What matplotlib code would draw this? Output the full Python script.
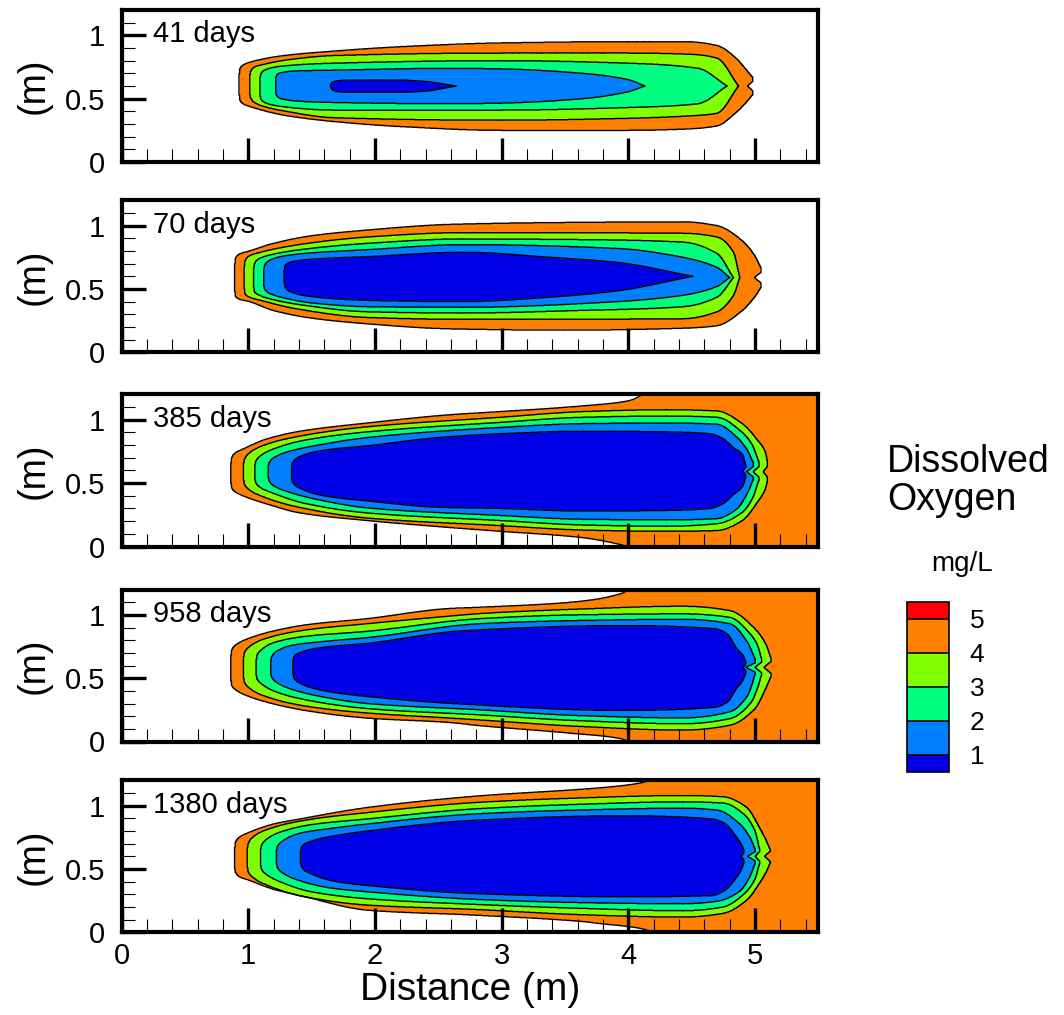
"""Dissolved oxygen plume snapshots (5 panels) with a stepped colour legend."""

import numpy as np
import matplotlib as M
M.use('Agg')
import matplotlib.pyplot as plt
from matplotlib.colors import ListedColormap, BoundaryNorm
from matplotlib.ticker import MultipleLocator

plt.rcParams['font.family'] = ['Liberation Sans', 'DejaVu Sans']

days = [41, 70, 385, 958, 1380]
do_ticks = [1, 2, 3, 4, 5]
do_colors = ['#0000E6', '#0080FF', '#00FF80', '#80FF00', '#FF8000', '#FF0000']

# Contour outlines, as stations (x, y_top, y_bottom) in m.
# c5 = outer edge of the orange band, c4 = 4 mg/L, ... c1 = 1 mg/L
d41_c5 = [(0.93, 0.70, 0.53), (0.935, 0.735, 0.49), (0.96, 0.765, 0.46), (1.04, 0.795, 0.43),
          (1.28, 0.84, 0.37), (1.67, 0.875, 0.32), (2.2, 0.91, 0.28), (3.0, 0.94, 0.25),
          (4.0, 0.95, 0.25), (4.45, 0.95, 0.26), (4.7, 0.92, 0.285), (4.85, 0.82, 0.39),
          (4.93, 0.73, 0.47), (4.98, 0.67, 0.53)]
d41_c4 = [(1.015, 0.69, 0.53), (1.02, 0.715, 0.505), (1.05, 0.75, 0.47), (1.12, 0.77, 0.44),
          (1.3, 0.805, 0.40), (1.67, 0.84, 0.35), (3.0, 0.86, 0.33), (4.0, 0.86, 0.345),
          (4.5, 0.85, 0.365), (4.7, 0.82, 0.385), (4.87, 0.60, 0.60)]
d41_c3 = [(1.095, 0.67, 0.52), (1.10, 0.695, 0.50), (1.13, 0.725, 0.47), (1.25, 0.755, 0.44),
          (1.67, 0.78, 0.41), (3.0, 0.80, 0.41), (4.0, 0.78, 0.43), (4.55, 0.74, 0.46),
          (4.78, 0.60, 0.60)]
d41_c2 = [(1.22, 0.67, 0.54), (1.225, 0.685, 0.525), (1.26, 0.705, 0.50), (1.4, 0.72, 0.48),
          (1.67, 0.725, 0.47), (2.6, 0.74, 0.46), (3.0, 0.735, 0.465), (3.64, 0.70, 0.50),
          (4.0, 0.65, 0.555), (4.13, 0.60, 0.60)]
d41_c1 = [(1.65, 0.605, 0.60), (1.66, 0.625, 0.575), (1.70, 0.64, 0.557), (1.78, 0.646, 0.551),
          (2.2, 0.646, 0.55), (2.4, 0.635, 0.56), (2.64, 0.60, 0.60)]

d70_c5 = [(0.895, 0.70, 0.48), (0.90, 0.74, 0.445), (0.93, 0.775, 0.42), (1.01, 0.80, 0.40),
          (1.2, 0.86, 0.33), (1.5, 0.92, 0.27), (1.94, 0.965, 0.225), (2.6, 1.01, 0.185),
          (3.5, 1.025, 0.175), (4.43, 1.03, 0.19), (4.7, 1.0, 0.21), (4.9, 0.88, 0.33),
          (5.0, 0.76, 0.44), (5.045, 0.67, 0.51)]
d70_c4 = [(0.97, 0.68, 0.50), (0.975, 0.72, 0.465), (1.0, 0.755, 0.44), (1.1, 0.79, 0.41),
          (1.4, 0.85, 0.34), (1.94, 0.91, 0.275), (2.7, 0.945, 0.26), (4.43, 0.94, 0.265),
          (4.7, 0.91, 0.32), (4.83, 0.79, 0.45), (4.88, 0.59, 0.59)]
d70_c3 = [(1.045, 0.67, 0.51), (1.05, 0.70, 0.48), (1.08, 0.735, 0.455), (1.18, 0.77, 0.42),
          (1.45, 0.815, 0.37), (1.94, 0.86, 0.32), (2.7, 0.895, 0.31), (3.6, 0.89, 0.33),
          (4.43, 0.87, 0.36), (4.70, 0.78, 0.435), (4.83, 0.59, 0.59)]
d70_c2 = [(1.125, 0.66, 0.52), (1.13, 0.685, 0.50), (1.16, 0.72, 0.47), (1.28, 0.76, 0.43),
          (1.5, 0.785, 0.39), (1.94, 0.81, 0.36), (2.7, 0.85, 0.355), (3.91, 0.82, 0.40),
          (4.43, 0.75, 0.45), (4.70, 0.67, 0.52), (4.80, 0.59, 0.59)]
d70_c1 = [(1.285, 0.65, 0.55), (1.29, 0.68, 0.52), (1.33, 0.71, 0.48), (1.5, 0.735, 0.44),
          (1.94, 0.755, 0.41), (2.7, 0.79, 0.40), (3.38, 0.75, 0.435), (3.91, 0.71, 0.485),
          (4.51, 0.60, 0.60)]

d385_c5 = [(0.865, 0.66, 0.50), (0.87, 0.70, 0.465), (0.90, 0.74, 0.43), (0.96, 0.77, 0.40),
           (1.15, 0.85, 0.335), (1.41, 0.91, 0.265), (1.94, 0.975, 0.205), (2.59, 1.04, 0.15),
           (2.99, 1.065, 0.12), (3.64, 1.11, 0.07), (4.0, 1.15, 0.0), (4.1, 1.19, -0.03),
           (4.2, 1.25, -0.05), (5.6, 1.25, -0.05)]
d385_c4 = [(0.965, 0.66, 0.52), (0.97, 0.685, 0.495), (1.0, 0.73, 0.455), (1.1, 0.79, 0.40),
           (1.4, 0.87, 0.31), (1.94, 0.945, 0.225), (2.99, 1.02, 0.165), (3.64, 1.065, 0.13),
           (4.3, 1.08, 0.12), (4.70, 1.07, 0.126), (4.90, 0.97, 0.205), (5.02, 0.84, 0.35),
           (5.08, 0.75, 0.45), (5.10, 0.66, 0.525)]
d385_c3 = [(1.055, 0.65, 0.525), (1.06, 0.67, 0.505), (1.09, 0.71, 0.47), (1.2, 0.77, 0.42),
           (1.45, 0.84, 0.34), (1.94, 0.905, 0.265), (2.99, 0.98, 0.205), (3.64, 1.02, 0.17),
           (4.3, 1.03, 0.16), (4.70, 1.02, 0.18), (4.90, 0.90, 0.27), (4.98, 0.80, 0.38),
           (5.03, 0.67, 0.52)]
d385_c2 = [(1.16, 0.64, 0.54), (1.165, 0.66, 0.52), (1.2, 0.70, 0.48), (1.32, 0.75, 0.43),
           (1.55, 0.80, 0.37), (1.94, 0.86, 0.305), (2.99, 0.94, 0.245), (3.64, 0.97, 0.215),
           (4.3, 0.975, 0.21), (4.70, 0.965, 0.22), (4.86, 0.86, 0.30), (4.94, 0.76, 0.42),
           (4.985, 0.665, 0.525)]
d385_c1 = [(1.345, 0.64, 0.53), (1.35, 0.66, 0.51), (1.43, 0.72, 0.45), (1.6, 0.76, 0.40),
           (1.94, 0.795, 0.36), (2.5, 0.86, 0.31), (2.99, 0.89, 0.30), (3.64, 0.91, 0.28),
           (4.3, 0.905, 0.285), (4.645, 0.89, 0.30), (4.75, 0.85, 0.34), (4.83, 0.78, 0.41),
           (4.905, 0.72, 0.48), (4.925, 0.65, 0.54)]

d958_c5 = [(0.865, 0.68, 0.48), (0.87, 0.72, 0.445), (0.90, 0.76, 0.41), (0.97, 0.80, 0.37),
           (1.15, 0.86, 0.31), (1.45, 0.92, 0.245), (1.94, 0.97, 0.185), (2.59, 1.05, 0.15),
           (2.83, 1.06, 0.125), (3.55, 1.10, 0.065), (3.95, 1.17, 0.02), (4.03, 1.22, -0.02),
           (4.1, 1.25, -0.05), (5.6, 1.25, -0.05)]
d958_c4 = [(0.965, 0.67, 0.50), (0.97, 0.70, 0.47), (1.0, 0.74, 0.43), (1.1, 0.80, 0.37),
           (1.45, 0.88, 0.28), (1.94, 0.93, 0.225), (2.59, 0.99, 0.185), (2.83, 1.01, 0.17),
           (3.6, 1.045, 0.12), (4.43, 1.068, 0.09), (4.80, 1.034, 0.128), (5.0, 0.89, 0.26),
           (5.09, 0.76, 0.43), (5.125, 0.66, 0.51)]
d958_c3 = [(1.065, 0.65, 0.52), (1.07, 0.68, 0.495), (1.1, 0.72, 0.46), (1.2, 0.78, 0.40),
           (1.45, 0.83, 0.33), (1.94, 0.87, 0.26), (2.83, 0.97, 0.21), (3.6, 1.0, 0.165),
           (4.43, 1.008, 0.14), (4.80, 0.98, 0.18), (4.97, 0.84, 0.31), (5.02, 0.76, 0.42),
           (5.05, 0.66, 0.52)]
d958_c2 = [(1.18, 0.64, 0.53), (1.185, 0.665, 0.51), (1.22, 0.71, 0.47), (1.35, 0.76, 0.41),
           (1.6, 0.79, 0.35), (1.94, 0.82, 0.30), (2.83, 0.93, 0.25), (3.6, 0.955, 0.205),
           (4.43, 0.965, 0.186), (4.80, 0.93, 0.234), (4.94, 0.785, 0.36), (4.98, 0.70, 0.46),
           (5.0, 0.65, 0.53)]
d958_c1 = [(1.355, 0.64, 0.53), (1.36, 0.665, 0.505), (1.43, 0.71, 0.45), (1.6, 0.745, 0.40),
           (1.94, 0.775, 0.355), (2.7, 0.875, 0.295), (3.95, 0.915, 0.245), (4.68, 0.89, 0.27),
           (4.78, 0.85, 0.31), (4.855, 0.735, 0.42), (4.905, 0.68, 0.485), (4.925, 0.635, 0.535)]

d1380_c5 = [(0.895, 0.67, 0.50), (0.90, 0.71, 0.475), (0.93, 0.75, 0.44), (1.01, 0.79, 0.41),
            (1.2, 0.855, 0.34), (1.41, 0.895, 0.29), (1.94, 0.985, 0.175), (2.8, 1.075, 0.135),
            (3.64, 1.13, 0.085), (3.77, 1.14, 0.07), (4.1, 1.18, 0.03), (4.22, 1.22, -0.01),
            (4.3, 1.25, -0.05), (5.6, 1.25, -0.05)]
d1380_c4 = [(0.995, 0.67, 0.51), (1.0, 0.70, 0.48), (1.03, 0.745, 0.44), (1.12, 0.80, 0.385),
            (1.45, 0.885, 0.28), (1.94, 0.945, 0.215), (2.8, 1.025, 0.18), (3.6, 1.06, 0.14),
            (4.43, 1.08, 0.12), (4.75, 1.07, 0.15), (4.93, 0.99, 0.25), (5.05, 0.80, 0.41),
            (5.10, 0.70, 0.50), (5.12, 0.65, 0.55)]
d1380_c3 = [(1.10, 0.66, 0.525), (1.105, 0.685, 0.50), (1.14, 0.73, 0.46), (1.25, 0.79, 0.40),
            (1.5, 0.85, 0.32), (1.94, 0.895, 0.265), (2.8, 0.975, 0.22), (3.6, 1.01, 0.19),
            (4.43, 1.03, 0.17), (4.75, 1.02, 0.20), (4.91, 0.935, 0.30), (5.0, 0.80, 0.42),
            (5.035, 0.66, 0.54)]
d1380_c2 = [(1.225, 0.65, 0.54), (1.23, 0.675, 0.515), (1.27, 0.72, 0.47), (1.4, 0.78, 0.41),
            (1.65, 0.82, 0.35), (1.94, 0.855, 0.32), (2.8, 0.935, 0.26), (3.6, 0.965, 0.235),
            (4.43, 0.98, 0.225), (4.70, 0.965, 0.245), (4.88, 0.855, 0.325), (4.96, 0.75, 0.44),
            (5.0, 0.66, 0.54)]
d1380_c1 = [(1.415, 0.645, 0.545), (1.42, 0.67, 0.52), (1.5, 0.72, 0.46), (1.7, 0.765, 0.40),
            (1.94, 0.80, 0.37), (2.8, 0.885, 0.305), (3.95, 0.92, 0.28), (4.66, 0.895, 0.29),
            (4.76, 0.86, 0.33), (4.855, 0.75, 0.435), (4.895, 0.69, 0.50), (4.91, 0.655, 0.545)]

# small 3-4 mg/L wedges at the right boundary
d385_w4 = [(5.425, 0.595, 0.595), (5.5, 0.635, 0.555), (5.55, 0.65, 0.54)]
d958_w4 = [(5.43, 0.59, 0.59), (5.5, 0.63, 0.555), (5.55, 0.645, 0.54)]
d1380_w4 = [(5.45, 0.60, 0.60), (5.5, 0.625, 0.575), (5.55, 0.64, 0.56)]

# notches at the right end: (contour, x_tip, x_end, y_mid, half_width)
d41_notch = [(5, 4.94, 4.98, 0.60, 0.035)]
d70_notch = [(5, 4.995, 5.045, 0.59, 0.04)]
d385_notch = [(4, 5.065, 5.10, 0.59, 0.045), (3, 4.985, 5.03, 0.59, 0.04),
              (2, 4.935, 4.985, 0.59, 0.04), (1, 4.905, 4.925, 0.595, 0.03)]
d958_notch = [(4, 5.07, 5.125, 0.585, 0.045), (3, 5.0, 5.05, 0.585, 0.04),
              (2, 4.93, 5.0, 0.585, 0.035), (1, 4.905, 4.925, 0.585, 0.025)]
d1380_notch = [(4, 5.075, 5.12, 0.60, 0.04), (3, 5.0, 5.035, 0.60, 0.035),
               (2, 4.94, 5.0, 0.60, 0.035), (1, 4.89, 4.91, 0.60, 0.025)]

outlines = {
    41: {5: [d41_c5], 4: [d41_c4], 3: [d41_c3], 2: [d41_c2], 1: [d41_c1]},
    70: {5: [d70_c5], 4: [d70_c4], 3: [d70_c3], 2: [d70_c2], 1: [d70_c1]},
    385: {5: [d385_c5], 4: [d385_c4, d385_w4], 3: [d385_c3], 2: [d385_c2], 1: [d385_c1]},
    958: {5: [d958_c5], 4: [d958_c4, d958_w4], 3: [d958_c3], 2: [d958_c2], 1: [d958_c1]},
    1380: {5: [d1380_c5], 4: [d1380_c4, d1380_w4], 3: [d1380_c3], 2: [d1380_c2], 1: [d1380_c1]},
}
notches = {41: d41_notch, 70: d70_notch, 385: d385_notch, 958: d958_notch, 1380: d1380_notch}

xg, yg = np.meshgrid(np.linspace(0, 5.5, 1101), np.linspace(0, 1.2, 481))


def pchip(x, y, xq):
    """Monotone cubic through the stations, so outlines come out rounded."""
    h = np.diff(x)
    d = np.diff(y) / h
    m = np.zeros_like(y)
    m[0], m[-1] = d[0], d[-1]
    for k in range(1, len(x) - 1):
        if d[k - 1] * d[k] > 0:
            w1, w2 = 2 * h[k] + h[k - 1], h[k] + 2 * h[k - 1]
            m[k] = (w1 + w2) / (w1 / d[k - 1] + w2 / d[k])
    i = np.clip(np.searchsorted(x, xq) - 1, 0, len(x) - 2)
    t = np.clip((xq - x[i]) / h[i], 0, 1)
    h00 = 2 * t**3 - 3 * t**2 + 1
    h10 = t**3 - 2 * t**2 + t
    h01 = -2 * t**3 + 3 * t**2
    h11 = t**3 - t**2
    return h00 * y[i] + h10 * h[i] * m[i] + h01 * y[i + 1] + h11 * h[i] * m[i + 1]


def inside(stations):
    st = np.array(stations, dtype=float)
    top = pchip(st[:, 0], st[:, 1], xg)
    bot = pchip(st[:, 0], st[:, 2], xg)
    return (xg >= st[0, 0]) & (xg <= st[-1, 0]) & (yg <= top) & (yg >= bot)


def do_field(day):
    # 5.5 = above the last level (left white), k-0.5 = band below contour k
    z = np.full(xg.shape, 5.5)
    for k in [5, 4, 3, 2, 1]:
        mask = np.zeros(xg.shape, bool)
        for blob in outlines[day][k]:
            mask |= inside(blob)
        for lev, xt, xe, ym, hw in notches[day]:
            if lev == k:
                gap = hw * np.clip((xg - xt) / (xe - xt), 0, None)
                mask &= ~((xg >= xt) & (np.abs(yg - ym) < gap))
        z[mask] = k - 0.5
    return z


W, H = 1064, 1015
fig = plt.figure(figsize=(W / 100, H / 100), dpi=100)

bases = [162, 352.3, 546.5, 741.5, 932.3]
ax_left, ax_right, ax_h = 121.5, 818.3, 152

fill_colors = do_colors[:5] + ['white']
for i, day in enumerate(days):
    ax = fig.add_axes([ax_left / W, 1 - bases[i] / H, (ax_right - ax_left) / W, ax_h / H])
    z = do_field(day)
    ax.contourf(xg, yg, z, levels=[0, 1, 2, 3, 4, 5, 6], colors=fill_colors)
    ax.contour(xg, yg, z, levels=[1, 2, 3, 4, 5], colors='k', linewidths=1.0)
    ax.set_xlim(0, 5.5)
    ax.set_ylim(0, 1.2)

    ax.set_xticks([0, 1, 2, 3, 4, 5])
    ax.set_yticks([0, 0.5, 1])
    ax.set_yticklabels(['0', '0.5', '1'])
    ax.xaxis.set_minor_locator(MultipleLocator(0.2))
    ax.yaxis.set_minor_locator(MultipleLocator(0.1))
    ax.tick_params(which='major', direction='in', length=17, width=2.4,
                   labelsize=21, top=False, right=False)
    ax.tick_params(which='minor', direction='in', length=9.5, width=0.8,
                   top=False, right=False)
    ax.tick_params(axis='y', which='major', pad=12)
    ax.tick_params(axis='x', which='major', pad=7, labelbottom=(i == len(days) - 1))
    for s in ax.spines.values():
        s.set_linewidth(3)
        s.set_zorder(5)

    ax.text(0.25, 0.945, f'{day} days', fontsize=21, va='baseline', ha='left')
    ax.text((34 - ax_left) / (ax_right - ax_left), 0.5, '(m)', transform=ax.transAxes,
            rotation=90, fontsize=27, ha='center', va='center')

fig.text((ax_left + ax_right) / 2 / W, 1 - 1000 / H, 'Distance (m)', fontsize=28,
         ha='center', va='baseline')

# legend
fig.text(887 / W, 1 - 471.5 / H, 'Dissolved', fontsize=27, ha='left', va='baseline')
fig.text(887 / W, 1 - 510 / H, 'Oxygen', fontsize=27, ha='left', va='baseline')
fig.text(931 / W, 1 - 571 / H, 'mg/L', fontsize=20, ha='left', va='baseline')

cax = fig.add_axes([907 / W, 1 - 772 / H, 42 / W, 170 / H])
cmap = ListedColormap(do_colors)
norm = BoundaryNorm([0.5, 1, 2, 3, 4, 5, 5.5], cmap.N)
sm = M.cm.ScalarMappable(norm=norm, cmap=cmap)
cb = fig.colorbar(sm, cax=cax, ticks=do_ticks, drawedges=True, spacing='proportional')
cb.outline.set_linewidth(1.2)
cb.dividers.set_linewidth(1.2)
cb.ax.minorticks_off()
cb.ax.tick_params(length=0, labelsize=19, pad=15)

fig.savefig('out.png', dpi=100)
